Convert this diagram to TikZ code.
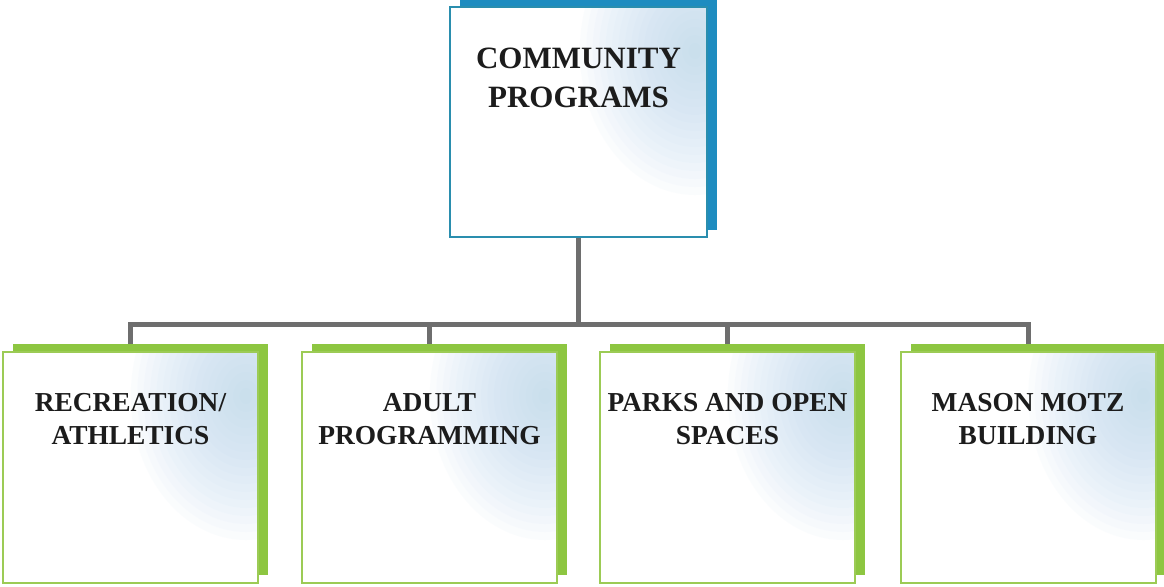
\documentclass[tikz,border=0pt]{standalone}
\usepackage{fontspec}
\setmainfont{Liberation Serif}
\usetikzlibrary{positioning,shadows,backgrounds}

\definecolor{topedge}{HTML}{2A8EAE}
\definecolor{topshade}{HTML}{1E8CC0}
\definecolor{unitedge}{HTML}{9CCB55}
\definecolor{unitshade}{HTML}{8DC641}
\definecolor{glow}{HTML}{B4D4EC}
\definecolor{bargray}{HTML}{6E6E6E}
\definecolor{ink}{HTML}{1C1C1C}

% soft blue glow in the upper right of every box
\tikzstyle{card}=[rectangle, fill=white, line width=1pt, inner sep=0pt, anchor=center,
  path picture={\foreach \k in {1,...,18}{
    \fill[glow, fill opacity=0.055] ([xshift=-6pt,yshift=-22pt]path picture bounding box.north east)
      ellipse ({\k*3.2pt} and {\k*4pt});}}]
\tikzstyle{topcard}=[card, draw=topedge, minimum width=128.5pt, minimum height=115pt,
  general shadow={shadow xshift=5pt, shadow yshift=3.5pt, fill=topshade}]
\tikzstyle{unitcard}=[card, draw=unitedge, minimum width=127.5pt, minimum height=115.5pt,
  general shadow={shadow xshift=5pt, shadow yshift=4pt, fill=unitshade}]
\tikzstyle{toptext}=[align=center, inner sep=0pt, text=ink, font=\fontsize{15.5}{19.5}\selectfont\bfseries]
\tikzstyle{unittext}=[align=center, inner sep=0pt, text=ink, font=\fontsize{13.7}{16.5}\selectfont\bfseries]
\tikzstyle{bar}=[line width=2.5pt, draw=bargray]

\begin{document}
\begin{tikzpicture}[x=0.5pt, y=-0.5pt]
	\useasboundingbox (0,0) rectangle (1164,586);

	% boxes
	\node[topcard](prog) at (578.5,122){};
	\node[unitcard](rec) at (130.5,467.5){};
	\node[unitcard](adult) at (429.5,467.5){};
	\node[unitcard](parks) at (727.5,467.5){};
	\node[unitcard](mason) at (1028,467.5){};

	% labels
	\node[toptext, below=21pt of prog.north](progtxt){COMMUNITY\\PROGRAMS};
	\node[unittext, below=21pt of rec.north](rectxt){RECREATION/\\ATHLETICS};
	\node[unittext, below=21pt of adult.north](adulttxt){ADULT\\PROGRAMMING};
	\node[unittext, below=21pt of parks.north](parkstxt){PARKS AND OPEN\\SPACES};
	\node[unittext, below=21pt of mason.north](masontxt){MASON MOTZ\\BUILDING};

	% connectors, behind the boxes
	\coordinate (bus) at (578,324);
	\begin{scope}[on background layer]
		\draw[bar] (prog.south) -- (prog.south |- bus);
		\draw[bar] (rec.north) -- (rec.north |- bus) -- (mason.north |- bus) -- (mason.north);
		\draw[bar] (adult.north) -- (adult.north |- bus);
		\draw[bar] (parks.north) -- (parks.north |- bus);
	\end{scope}
\end{tikzpicture}
\end{document}
